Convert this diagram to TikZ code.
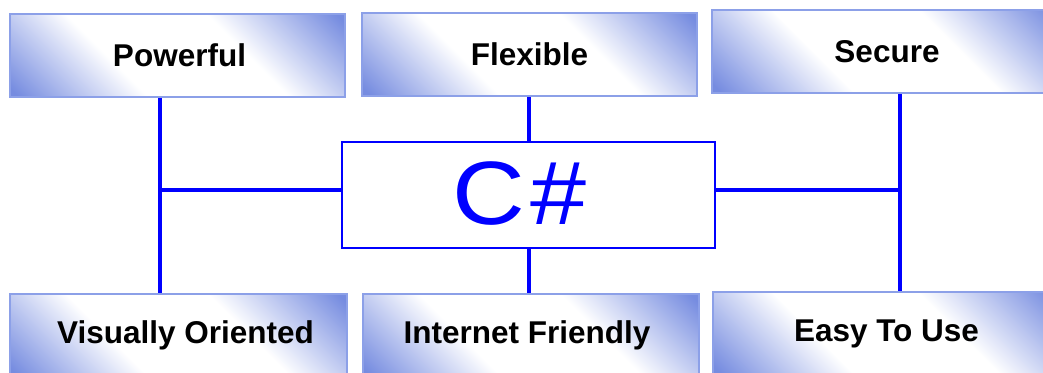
\documentclass[tikz,border=0pt]{standalone}
\usepackage{fontspec}
\setmainfont{Liberation Sans}
\definecolor{bxc}{RGB}{118,140,224}
\definecolor{bxb}{RGB}{140,160,232}
\definecolor{lnc}{RGB}{0,0,255}
\pgfdeclarehorizontalshading{boxshade}{100bp}{color(0bp)=(bxc); color(16bp)=(bxc); color(38bp)=(white); color(62bp)=(white); color(84bp)=(bxc); color(100bp)=(bxc)}
\begin{document}
\begin{tikzpicture}[x=1pt,y=-1pt,
  feat/.style={draw=bxb, line width=2.5pt, shading=boxshade, shading angle=45,
    minimum height=83pt, inner sep=0pt,
    font=\fontsize{31.5}{36}\selectfont\bfseries, text=black},
  csbox/.style={draw=lnc, line width=1.5pt, fill=white, minimum width=373pt,
    minimum height=106pt, inner sep=0pt, font=\fontsize{90}{100}\selectfont, text=lnc},
  conn/.style={draw=lnc, line width=4pt}]
\useasboundingbox (0,0) rectangle (1043,372);
\clip (0,0) rectangle (1043,372);
\fill[white] (0,0) rectangle (1043,372);
\node[feat, minimum width=335pt] (pow) at (177.5,55.5) {\hspace*{4pt}Powerful};
\node[feat, minimum width=335pt] (flex) at (529.5,54.5) {Flexible};
\node[feat, minimum width=350pt] (sec) at (887,51.5) {Secure};
\node[feat, minimum width=337pt] (vis) at (178.5,335.5) {\hspace*{14pt}Visually Oriented};
\node[feat, minimum width=336pt] (inet) at (531,335.5) {Internet Friendly\hspace*{8pt}};
\node[feat, minimum width=347pt] (easy) at (886.5,333.5) {Easy To Use};
\node[csbox] (cs) at (528.5,195) {\hspace*{-18pt}\raisebox{4pt}{\scalebox{1.12}[1]{C\kern5pt\#}}};
\coordinate (lj) at (160,190);
\coordinate (rj) at (900,190);
\coordinate (mj) at (529,190);
\draw[conn] (lj |- pow.south) -- (lj |- vis.north);
\draw[conn] (lj) -- (cs.west |- lj);
\draw[conn] (rj |- sec.south) -- (rj |- easy.north);
\draw[conn] (rj) -- (cs.east |- rj);
\draw[conn] (mj |- flex.south) -- (mj |- cs.north);
\draw[conn] (mj |- cs.south) -- (mj |- inet.north);
\end{tikzpicture}
\end{document}
